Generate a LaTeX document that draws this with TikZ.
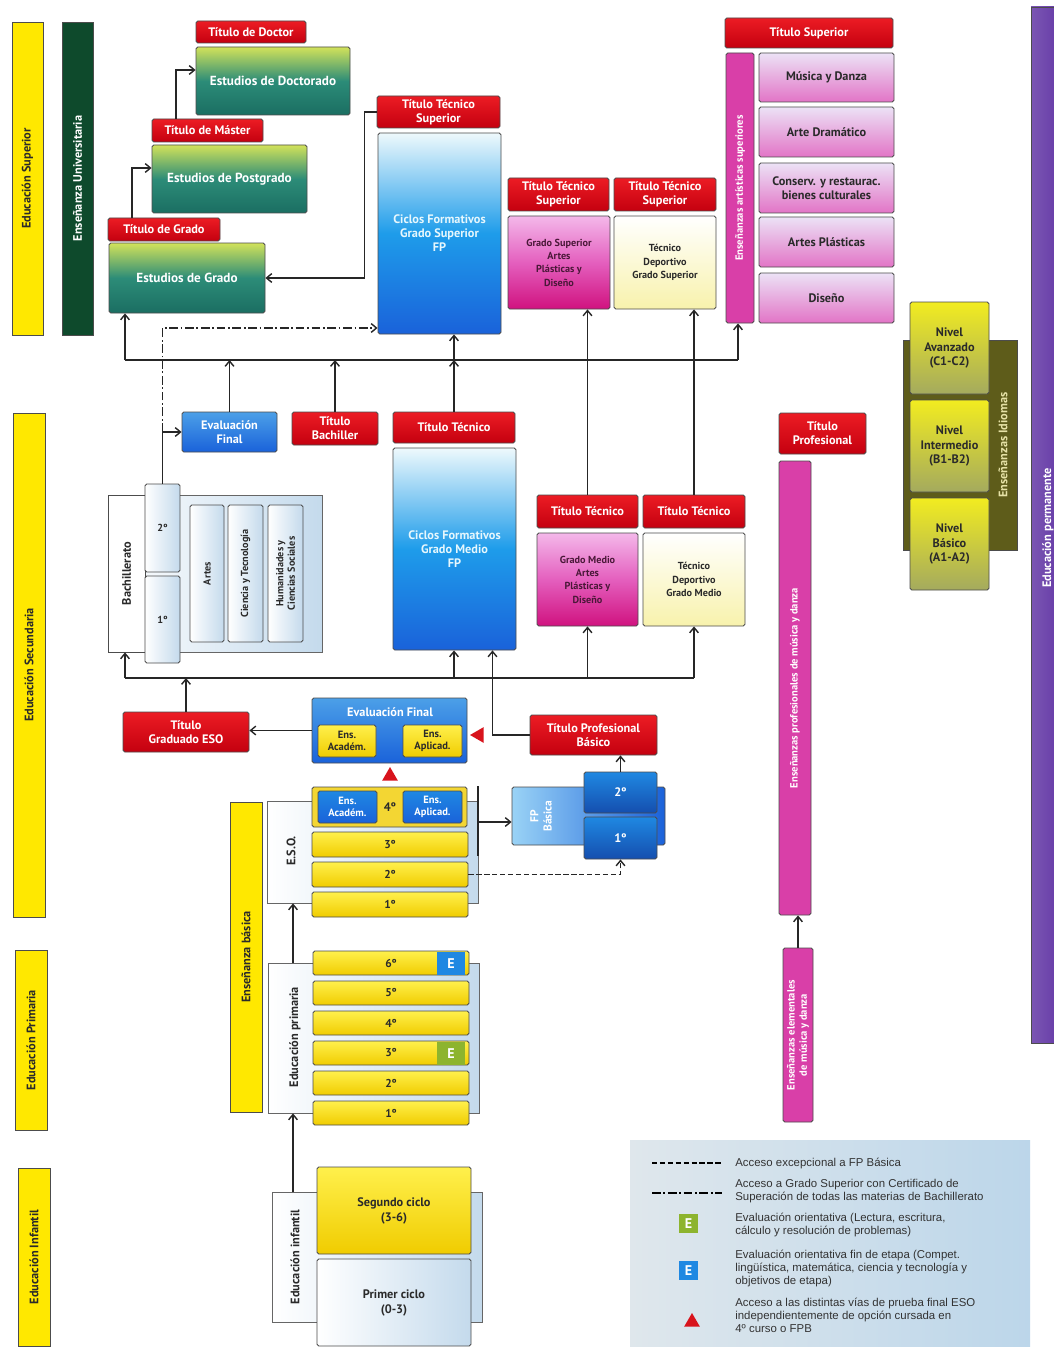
\documentclass[tikz,border=0pt]{standalone}
\usepackage{fontspec}
\setmainfont{PT Sans}
\newfontfamily\legfont{Liberation Sans}
\usetikzlibrary{shapes.geometric}
\usetikzlibrary{arrows.meta}
\usepackage{xcolor}
\definecolor{titred}{HTML}{EC1C24}
\definecolor{titdark}{HTML}{C4000F}
\definecolor{unilime}{HTML}{D2E25A}
\definecolor{uniteal}{HTML}{2C8C78}
\definecolor{unideep}{HTML}{1B6E62}
\definecolor{unigreen}{HTML}{0E4A2C}
\definecolor{fplight}{HTML}{EEF9FC}
\definecolor{fpmid}{HTML}{1E9CEA}
\definecolor{fpblue}{HTML}{1A62DA}
\definecolor{maglight}{HTML}{F4B8EA}
\definecolor{magmid}{HTML}{E45FBE}
\definecolor{magdeep}{HTML}{D0127F}
\definecolor{magtext}{HTML}{4A1838}
\definecolor{tdyellow}{HTML}{F8F2AC}
\definecolor{artlav}{HTML}{ECE2F6}
\definecolor{artpink}{HTML}{E274C6}
\definecolor{pinkbar}{HTML}{D93FA8}
\definecolor{eduyel}{HTML}{FFE800}
\definecolor{rowtop}{HTML}{FFF04C}
\definecolor{rowbot}{HTML}{F0CC00}
\definecolor{grpblue}{HTML}{C4DAEC}
\definecolor{olivedark}{HTML}{5E5C1A}
\definecolor{idiyel}{HTML}{F2EC20}
\definecolor{idiolive}{HTML}{A4AA5E}
\definecolor{idilab}{HTML}{E6E2A6}
\definecolor{permpurple}{HTML}{5A2CA0}
\definecolor{legleft}{HTML}{DFE7EC}
\definecolor{legright}{HTML}{BCD6EA}
\definecolor{evgreen}{HTML}{8DB42E}
\definecolor{evblue}{HTML}{1F88E2}
\definecolor{trired}{HTML}{D8131C}
\definecolor{ink}{HTML}{2A2A2A}
% box from its corners in pixels
\newcommand{\mkbox}[7]{\node[#2, minimum width={(#5-#3)*0.02cm}, minimum height={(#6-#4)*0.02cm}] (#1) at ({(#3+#5)/2},{(#4+#6)/2}) {#7};}
% the same, text turned upwards
\newcommand{\mkvbox}[7]{\node[#2, rotate=90, minimum width={(#6-#4)*0.02cm}, minimum height={(#5-#3)*0.02cm}] (#1) at ({(#3+#5)/2},{(#4+#6)/2}) {#7};}

\begin{document}
\begin{tikzpicture}[x=0.02cm, y=-0.02cm,
    base/.style={draw=black!70, line width=0.5pt, rounded corners=1pt, inner sep=1pt, align=center, text=ink, font=\bfseries\fontsize{7}{8}\selectfont},
    tit/.style={base, top color=titred, bottom color=titdark, text=white},
    uni/.style={base, top color=unilime, bottom color=unideep, middle color=uniteal, text=white, font=\bfseries\fontsize{7.5}{9}\selectfont},
    cf/.style={base, top color=fplight, bottom color=fpblue, middle color=fpmid, text=cyan!10!white},
    mag/.style={base, top color=maglight, bottom color=magdeep, middle color=magmid, text=magtext, font=\bfseries\fontsize{5.8}{7.6}\selectfont},
    dep/.style={base, top color=white, bottom color=tdyellow, font=\bfseries\fontsize{5.8}{7.6}\selectfont},
    art/.style={base, top color=artlav, bottom color=artpink},
    stagebar/.style={base, rounded corners=0pt, fill=eduyel},
    unibar/.style={base, rounded corners=0pt, fill=unigreen, text=white},
    pinkbar/.style={base, fill=pinkbar, text=white, font=\bfseries\fontsize{6}{7}\selectfont},
    grp/.style={draw=black!60, line width=0.5pt, left color=white, right color=grpblue},
    wbox/.style={base, rounded corners=0pt, fill=white},
    lbox/.style={base, left color=white, right color=grpblue, font=\bfseries\fontsize{5.8}{6.6}\selectfont},
    row/.style={base, top color=rowtop, bottom color=rowbot, font=\bfseries\fontsize{6.5}{8}\selectfont},
    cont/.style={base, fill=rowbot!80!white},
    evbl/.style={base, top color=evblue!80!white, bottom color=fpblue, text=white},
    bbox/.style={base, top color=evblue, bottom color=fpblue, text=white, font=\bfseries\fontsize{6}{7}\selectfont},
    ybox/.style={base, top color=rowtop, bottom color=rowbot, font=\bfseries\fontsize{6}{7}\selectfont},
    fpbox/.style={base, left color=fpmid!45!white, right color=fpblue},
    fpdark/.style={base, top color=evblue, bottom color=fpblue!80!black, text=white},
    idibox/.style={base, top color=idiyel, bottom color=idiolive},
    olive/.style={base, rounded corners=0pt, fill=olivedark},
    purplebar/.style={base, rounded corners=0pt, left color=permpurple!80!white, right color=permpurple},
    ebox/.style={inner sep=0pt, minimum size=0.42cm, text=white, font=\bfseries\fontsize{8}{8}\selectfont},
    vlab/.style={rotate=90, inner sep=0pt, align=center, text=ink, font=\bfseries\fontsize{7}{8}\selectfont},
    wlab/.style={inner sep=0pt, align=center, text=white, font=\bfseries\fontsize{7}{8}\selectfont},
    tri/.style={regular polygon, regular polygon sides=3, fill=trired, inner sep=0pt, minimum size=0.36cm},
    legtext/.style={anchor=west, align=left, inner sep=0pt, text=black!80, font=\legfont\fontsize{6.5}{7.4}\selectfont},
    ln/.style={line width=0.8pt, draw=black!85},
    arr/.style={ln, -{Straight Barb[length=3pt,width=5pt]}},
    ddot/.style={dash pattern=on 5pt off 1.5pt on 1pt off 1.5pt},
    dsh/.style={dash pattern=on 3pt off 1.5pt}]
\fill[white] (0,0) rectangle (1054,1348);
\useasboundingbox (0,0) rectangle (1054,1348);

% stages on the left
\mkvbox{sup}{stagebar}{12}{22}{43}{335}{Educación Superior}
\mkvbox{univ}{unibar}{62}{22}{93}{335}{Enseñanza Universitaria}
\mkvbox{sec}{stagebar}{13}{413}{45}{917}{Educación Secundaria}
\mkvbox{prim}{stagebar}{15}{950}{47}{1130}{Educación Primaria}
\mkvbox{inf}{stagebar}{18}{1168}{50}{1346}{Educación Infantil}
\mkvbox{basica}{stagebar}{230}{802}{262}{1112}{Enseñanza básica}

% university
\mkbox{tdoc}{tit}{196}{21}{306}{43}{Título de Doctor}
\mkbox{doc}{uni}{196}{47}{350}{115}{Estudios de Doctorado}
\mkbox{tmas}{tit}{152}{119}{263}{142}{Título de Máster}
\mkbox{post}{uni}{152}{145}{307}{213}{Estudios de Postgrado}
\mkbox{tgra}{tit}{108}{218}{220}{241}{Título de Grado}
\mkbox{gra}{uni}{109}{243}{265}{313}{Estudios de Grado}
\draw[arr] ([xshift=-0.63cm]tmas.north) |- ([yshift=0.22cm]doc.west);
\draw[arr] ([xshift=-0.64cm]tgra.north) |- ([yshift=0.22cm]post.west);

% grado superior
\mkbox{tts}{tit}{377}{96}{500}{128}{Título Técnico\\Superior}
\mkbox{cfgs}{cf}{378}{133}{501}{334}{Ciclos Formativos\\Grado Superior\\FP}
\mkbox{ttsa}{tit}{508}{178}{609}{211}{Título Técnico\\Superior}
\mkbox{gsa}{mag}{508}{216}{610}{309}{Grado Superior\\Artes\\Plásticas y\\Diseño}
\mkbox{ttsd}{tit}{614}{178}{716}{211}{Título Técnico\\Superior}
\mkbox{tdgs}{dep}{614}{216}{716}{309}{Técnico\\Deportivo\\Grado Superior}
\draw[arr] (tts.west) -- ++(-12,0) |- (gra.east);

% artisticas superiores
\mkbox{tsup}{tit}{725}{18}{893}{48}{Título Superior}
\mkvbox{artbar}{pinkbar}{726}{53}{754}{323}{Enseñanzas artísticas superiores}
\mkbox{mus}{art}{759}{53}{894}{102}{Música y Danza}
\mkbox{dra}{art}{759}{107}{894}{157}{Arte Dramático}
\mkbox{con}{art}{759}{163}{894}{213}{Conserv. y restaurac.\\bienes culturales}
\mkbox{apl}{art}{759}{217}{894}{267}{Artes Plásticas}
\mkbox{dis}{art}{759}{273}{894}{323}{Diseño}

% bachillerato and grado medio
\mkbox{evb}{evbl}{182}{412}{277}{452}{Evaluación\\Final}
\mkbox{tbac}{tit}{292}{412}{378}{445}{Título\\Bachiller}
\mkbox{ttgm}{tit}{393}{412}{515}{443}{Título Técnico}
\mkbox{cfgm}{cf}{393}{448}{516}{650}{Ciclos Formativos\\Grado Medio\\FP}
\mkbox{ttga}{tit}{537}{495}{638}{528}{Título Técnico}
\mkbox{gma}{mag}{537}{533}{638}{626}{Grado Medio\\Artes\\Plásticas y\\Diseño}
\mkbox{ttgd}{tit}{643}{495}{745}{528}{Título Técnico}
\mkbox{tdgm}{dep}{643}{533}{745}{626}{Técnico\\Deportivo\\Grado Medio}

\mkbox{bach}{grp}{108}{495}{322}{652}{}
\mkvbox{bachl}{wbox}{108}{495}{145}{652}{Bachillerato}
\mkbox{bac2}{lbox}{145}{484}{180}{572}{2º}
\mkbox{bac1}{lbox}{145}{576}{180}{663}{1º}
\mkvbox{bart}{lbox}{190}{505}{224}{642}{Artes}
\mkvbox{bcyt}{lbox}{228}{505}{263}{642}{Ciencia y Tecnología}
\mkvbox{bhum}{lbox}{268}{505}{303}{642}{Humanidades y\\Ciencias Sociales}

% upper distribution line
\coordinate (h1l) at (125,360);
\coordinate (h1r) at (738,360);
\draw[ln] (h1l) -- (h1r);
\draw[arr] (h1l) -- (h1l |- gra.south);
\draw[arr] (h1r) -- (h1r |- artbar.west);
\draw[arr] (evb.north) -- (evb.north |- h1l);
\draw[arr] (tbac.north) -- (tbac.north |- h1l);
\draw[arr] (ttgm.north) -- (ttgm.north |- h1l);
\draw[arr] (ttgm.north |- h1l) -- (ttgm.north |- cfgs.south);
\draw[arr] (ttga.north) -- (ttga.north |- gsa.south);
\draw[arr] (ttgd.north) -- (ttgd.north |- tdgs.south);
\coordinate (dd) at (0,328);
\draw[ln] (bac2.north) -- (bac2.north |- evb.west);
\draw[arr] (bac2.north |- evb.west) -- (evb.west);
\draw[arr, ddot] (bac2.north |- evb.west) |- (cfgs.west |- dd);

% lower distribution line
\coordinate (h2l) at (125,678);
\coordinate (h2r) at (694,678);
\draw[ln] (h2l) -- (h2r);
\draw[arr] (h2l) -- (h2l |- bach.south);
\draw[arr] (ttgm.north |- h2l) -- (ttgm.north |- cfgm.south);
\draw[arr] (ttga.north |- h2l) -- (ttga.north |- gma.south);
\draw[arr] (h2r) -- (h2r |- tdgm.south);

% ESO
\mkbox{tgeso}{tit}{123}{712}{249}{752}{Título\\Graduado ESO}
\mkbox{evf}{evbl}{312}{698}{467}{763}{}
\node[wlab] (evft) at (390,712) {Evaluación Final};
\mkbox{evfa}{ybox}{318}{725}{376}{757}{Ens.\\Académ.}
\mkbox{evfp}{ybox}{403}{725}{462}{757}{Ens.\\Aplicad.}
\draw[arr] (evf.west) -- (evf.west -| tgeso.east);
\draw[arr] (tgeso.north) -- (tgeso.north |- h2l);
\mkbox{tpb}{tit}{530}{715}{657}{755}{Título Profesional\\Básico}
\draw[arr] (tpb.west) -| ([xshift=0.76cm]cfgm.south);
\node[tri, shape border rotate=90] (trl) at (479,735) {};
\node[tri] (tru) at (390,776) {};

\mkbox{eso}{grp}{267}{801}{478}{903}{}
\node[vlab] (esot) at (291,851) {E.S.O.};
\mkbox{eso4}{cont}{312}{787}{467}{827}{}
\mkbox{eso4a}{bbox}{318}{791}{377}{823}{Ens.\\Académ.}
\mkbox{eso4p}{bbox}{403}{791}{462}{823}{Ens.\\Aplicad.}
\node[inner sep=0pt, text=ink, font=\bfseries\fontsize{7}{8}\selectfont] (eso4t) at (390,807) {4º};
\foreach \k/\t in {3/832,2/862,1/892}{
    \mkbox{eso\k}{row}{312}{\t}{468}{\t+25}{\k{}º}
}
\coordinate (eb1) at (478,786);
\coordinate (eb2) at (478,856);
\coordinate (eb3) at (478,822);
\draw[line width=1.3pt, black!85] (eb1) -- (eb2);

% FP basica
\mkbox{fpb}{fpbox}{512}{787}{665}{845}{}
\node[vlab, text=white, font=\bfseries\fontsize{6.5}{7.5}\selectfont] (fpbt) at (541,816) {FP\\Básica};
\mkbox{fp2}{fpdark}{584}{772}{657}{813}{2º}
\mkbox{fp1}{fpdark}{584}{817}{657}{859}{1º}
\draw[arr] (fp2.north) -- (fp2.north |- tpb.south);
\draw[arr] (eb3) -- (eb3 -| fpb.west);
\draw[arr, dsh] (eso2.east) -| (fp1.south);

% primaria
\mkbox{pri}{grp}{268}{963}{479}{1113}{}
\node[vlab] (prit) at (295,1037) {Educación primaria};
\foreach \k/\t in {6/951,5/981,4/1011,3/1041,2/1071,1/1101}{
    \mkbox{pri\k}{row}{313}{\t}{469}{\t+24}{\k{}º}
}
\mkbox{eprib}{ebox, fill=evblue}{437}{952}{465}{975}{E}
\mkbox{eprig}{ebox, fill=evgreen}{437}{1042}{465}{1065}{E}
\coordinate (pa) at (293,963);
\draw[arr] (pa) -- (pa |- eso.south);

% infantil
\mkbox{infg}{grp}{272}{1192}{482}{1322}{}
\node[vlab] (inft) at (295,1257) {Educación infantil};
\mkbox{seg}{row, font=\bfseries\fontsize{7}{8.5}\selectfont}{317}{1167}{471}{1254}{Segundo ciclo\\(3-6)}
\mkbox{prc}{lbox, font=\bfseries\fontsize{7}{8.5}\selectfont}{317}{1259}{471}{1346}{Primer ciclo\\(0-3)}
\coordinate (ia) at (293,1192);
\draw[arr] (ia) -- (ia |- pri.south);

% musica y danza
\mkbox{tprof}{tit}{779}{413}{866}{454}{Título\\Profesional}
\mkvbox{prof}{pinkbar}{779}{461}{811}{915}{Enseñanzas profesionales de música y danza}
\mkvbox{elem}{pinkbar}{783}{948}{813}{1122}{Enseñanzas elementales\\de música y danza}
\draw[arr] (elem.east) -- (elem.east |- prof.west);

% idiomas
\mkbox{idi}{olive}{903}{340}{1017}{550}{}
\node[vlab, text=idilab] (idit) at (1003,445) {Enseñanzas Idiomas};
\mkbox{niv3}{idibox}{910}{302}{989}{394}{Nivel\\Avanzado\\(C1-C2)}
\mkbox{niv2}{idibox}{910}{400}{989}{492}{Nivel\\Intermedio\\(B1-B2)}
\mkbox{niv1}{idibox}{910}{498}{989}{590}{Nivel\\Básico\\(A1-A2)}

% permanente
\mkbox{perm}{purplebar}{1031}{7}{1075}{1043}{}
\node[vlab, text=white] (permt) at (1048,528) {Educación permanente};

% legend
\mkbox{leg}{draw=none, left color=legleft, right color=legright}{630}{1140}{1030}{1346}{}
\coordinate (l1a) at (652,1163);
\coordinate (l1b) at (722,1163);
\draw[line width=1.1pt, dsh] (l1a) -- (l1b);
\node[legtext] (l1t) at (735,1163) {Acceso excepcional a FP Básica};
\coordinate (l2a) at (652,1193);
\coordinate (l2b) at (722,1193);
\draw[line width=1.1pt, ddot] (l2a) -- (l2b);
\node[legtext] (l2t) at (735,1191) {Acceso a Grado Superior con Certificado de\\Superación de todas las materias de Bachillerato};
\mkbox{l3e}{ebox, minimum size=0.38cm, fill=evgreen}{679}{1214}{698}{1233}{E}
\node[legtext] (l3t) at (735,1225) {Evaluación orientativa (Lectura, escritura,\\cálculo y resolución de problemas)};
\mkbox{l4e}{ebox, minimum size=0.38cm, fill=evblue}{679}{1261}{698}{1280}{E}
\node[legtext] (l4t) at (735,1268) {Evaluación orientativa fin de etapa (Compet.\\lingüística, matemática, ciencia y tecnología y\\objetivos de etapa)};
\node[tri] (l5e) at (692,1322) {};
\node[legtext] (l5t) at (735,1315) {Acceso a las distintas vías de prueba final ESO\\independientemente de opción cursada en\\4º curso o FPB};
\end{tikzpicture}
\end{document}
